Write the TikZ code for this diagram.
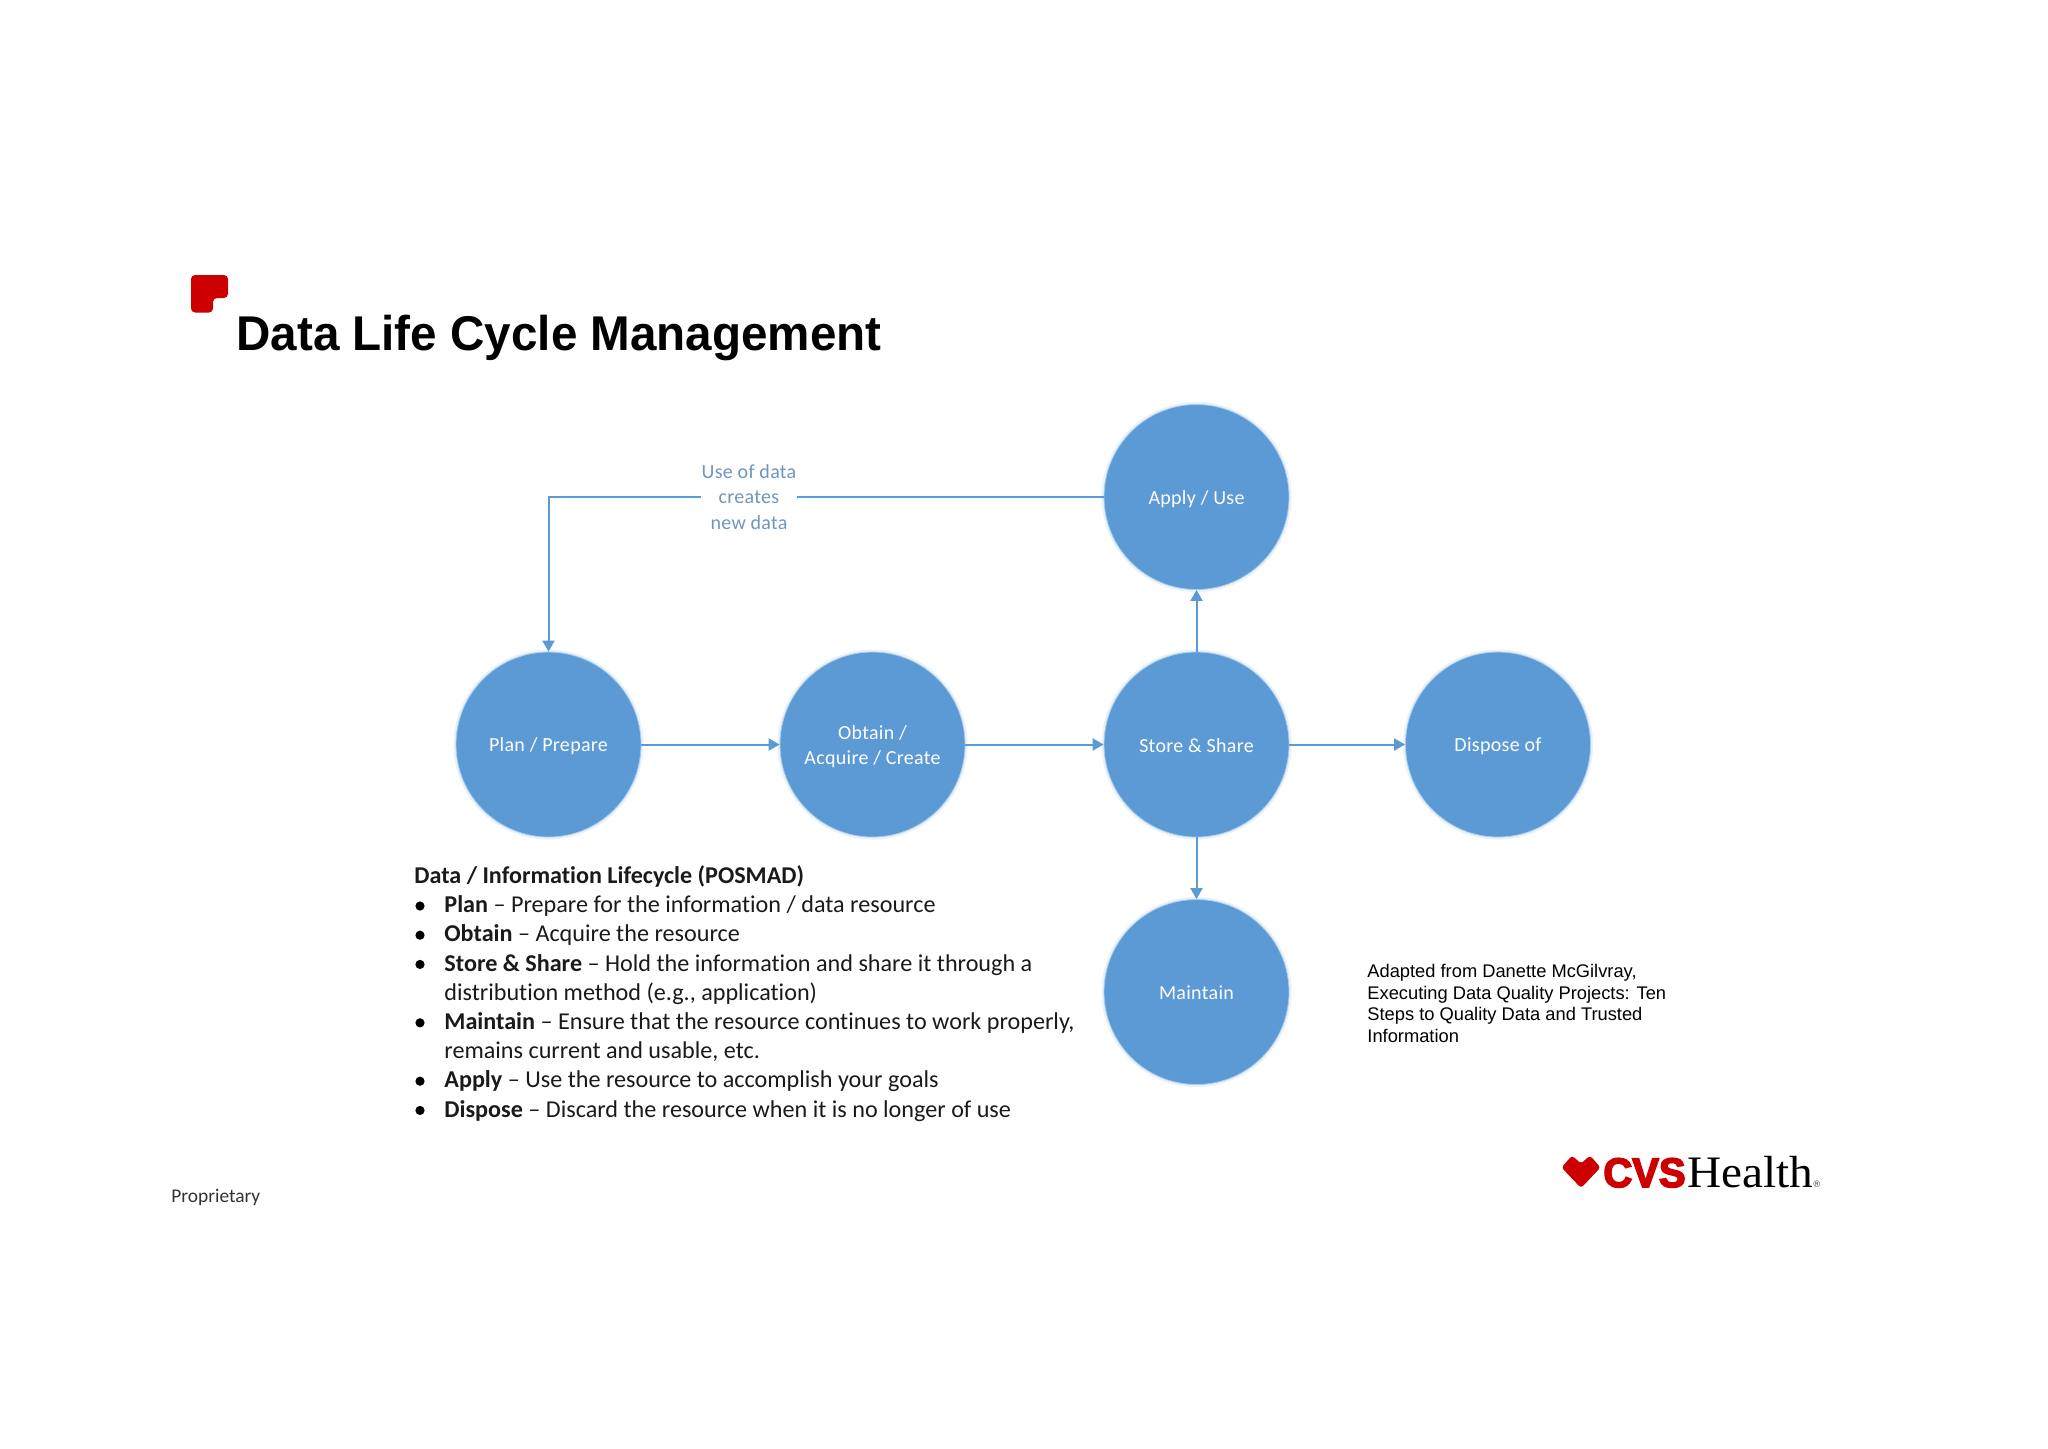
\documentclass[tikz,border=0pt]{standalone}
\usepackage{fontspec}
\setmainfont{Carlito}[Ligatures=NoCommon]
\newfontfamily\arialf{Liberation Sans}
\newfontfamily\titlef[FakeStretch=0.975]{Liberation Sans Bold}
\newfontfamily\cvsf[FakeBold=4,FakeStretch=0.97]{Liberation Sans Bold}
\newfontfamily\healthf[FakeStretch=1.05]{Liberation Serif}
\newfontfamily\regf{DejaVu Sans}
\newfontfamily\circf[LetterSpace=1.5,Ligatures=NoCommon]{Carlito}
\usetikzlibrary{arrows.meta}
\definecolor{nodeblue}{HTML}{5B9AD5}
\definecolor{halo}{HTML}{A9CBEC}
\definecolor{softhalo}{HTML}{E9F1FA}
\definecolor{linkblue}{HTML}{5B9AD5}
\definecolor{labelblue}{HTML}{6E96BC}
\definecolor{cvsred}{HTML}{CC0000}
\definecolor{listink}{HTML}{1A1A1A}
\newcommand{\stg}{\rule[-1.4pt]{0pt}{10.4pt}}
\tikzset{
  stage/.style={circle,fill=nodeblue,draw=halo,line width=0.4pt,minimum size=92.5pt,inner sep=0pt,
    preaction={draw=softhalo,line width=2.5pt},
    text=white,font=\circf\fontsize{10}{12.5}\selectfont,align=center},
  link/.style={draw=linkblue,line width=1pt,-{Triangle[length=5.5pt,width=6pt]}},
  plainlink/.style={draw=linkblue,line width=1pt},
  listline/.style={anchor=base west,inner sep=0pt,text=listink,font=\fontsize{12.08}{14}\selectfont},
  dot/.style={circle,fill=black,inner sep=0pt,minimum size=4.6pt},
  cite/.style={anchor=base west,inner sep=0pt,font=\arialf\fontsize{9.15}{11}\selectfont,text=black}
}
\begin{document}
\begin{tikzpicture}[x=0.5pt,y=-0.5pt]
\useasboundingbox (0,0) rectangle (2048,1448);
% title mark
\fill[cvsred,rounded corners=2pt] (191,275) -- (228,275) -- (228,298) -- (213,298) -- (213,312.5) -- (191,312.5) -- cycle;
\node[anchor=base west,inner sep=0pt,font=\titlef\fontsize{24.4}{28}\selectfont] (title) at (236,350) {Data Life Cycle Management};
% stages
\node[stage] (plan) at (548.5,744.5) {\stg Plan / Prepare};
\node[stage] (obtain) at (872.5,744.5) {\stg Obtain /\\\stg Acquire / Create};
\node[stage] (store) at (1196.5,744.5) {\stg Store \& Share};
\node[stage] (dispose) at (1498,744.5) {\stg Dispose of};
\node[stage] (apply) at (1196.5,497) {\stg Apply / Use};
\node[stage] (maintain) at (1196.5,992) {\stg Maintain};
\node[inner sep=0pt,minimum width=48pt,text=labelblue,align=center,font=\circf\fontsize{10}{12.6}\selectfont] (uselabel) at (749,497) {Use of data\\creates\\new data};
% connectors
\draw[link] (plan) -- (obtain);
\draw[link] (obtain) -- (store);
\draw[link] (store) -- (dispose);
\draw[link] (store) -- (apply);
\draw[link] (store) -- (maintain);
\draw[plainlink] (apply) -- (uselabel);
\draw[link] (uselabel.west) -| (plan.north);
% list
\node[listline,font=\bfseries\fontsize{12.05}{14}\selectfont] (head) at (414,883.5) {Data / Information Lifecycle (POSMAD)};
\node[dot] (d1) at (420,906) {};
\node[listline] (l1) at (444,912.7) {\textbf{Plan} – Prepare for the information / data resource};
\node[dot] (d2) at (420,935.2) {};
\node[listline] (l2) at (444,941.9) {\textbf{Obtain} – Acquire the resource};
\node[dot] (d3) at (420,964.4) {};
\node[listline] (l3) at (444,971.1) {\textbf{Store \& Share} – Hold the information and share it through a};
\node[listline] (l3b) at (444,1000.3) {distribution method (e.g., application)};
\node[dot] (d4) at (420,1022.8) {};
\node[listline] (l4) at (444,1029.5) {\textbf{Maintain} – Ensure that the resource continues to work properly,};
\node[listline] (l4b) at (444,1058.7) {remains current and usable, etc.};
\node[dot] (d5) at (420,1081.2) {};
\node[listline] (l5) at (444,1087.9) {\textbf{Apply} – Use the resource to accomplish your goals};
\node[dot] (d6) at (420,1110.4) {};
\node[listline] (l6) at (444,1117.1) {\textbf{Dispose} – Discard the resource when it is no longer of use};
% citation
\node[cite] (c1) at (1367,977.5) {Adapted from Danette McGilvray,};
\node[cite] (c2) at (1367,999.2) {Executing Data Quality Projects: Ten};
\node[cite] (c3) at (1367,1020.9) {Steps to Quality Data and Trusted};
\node[cite] (c4) at (1367,1042.6) {Information};
% footer
\node[anchor=base west,inner sep=0pt,text=black!80,font=\fontsize{9.7}{11}\selectfont] (prop) at (171,1202.5) {Proprietary};
% logo
\fill[cvsred,rounded corners=1.5pt] (1581,1163.5) -- (1572,1155.5) -- (1561.5,1167.5) -- (1581,1188) -- (1600.5,1167.5) -- (1590,1155.5) -- cycle;
\node[anchor=base west,inner sep=0pt,text=cvsred,font=\cvsf\fontsize{20.6}{22}\selectfont] (cvs) at (1603,1187) {CVS};
\node[anchor=base west,inner sep=0pt,text=black,font=\healthf\fontsize{22.5}{25}\selectfont] (health) at (1687,1187) {Health};
\node[anchor=base west,inner sep=0pt,text=black!70,font=\regf\fontsize{4.5}{5}\selectfont] (reg) at (1812,1187) {®};
\end{tikzpicture}
\end{document}
